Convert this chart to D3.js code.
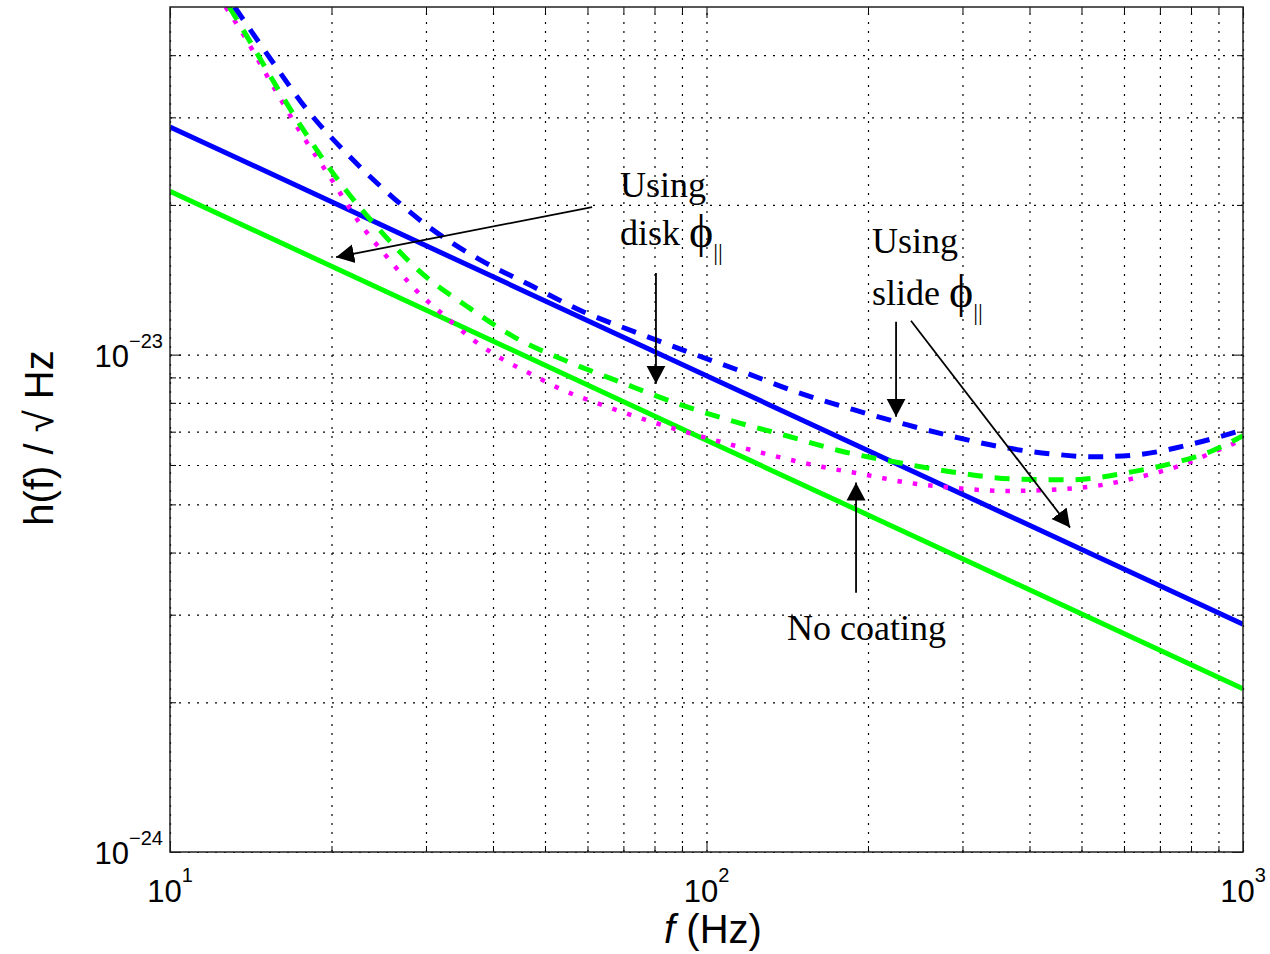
<!DOCTYPE html>
<html>
<head>
<meta charset="utf-8">
<script src="https://cdnjs.cloudflare.com/ajax/libs/d3/7.8.5/d3.min.js"></script>
<style>
  body { margin: 0; background: #fff; }
  .tick line { stroke: #000; stroke-width: 1; }
  .grid line { stroke: #000; stroke-width: 1.2; stroke-dasharray: 2,7; }
</style>
</head>
<body>
<div id="chart"></div>
<script>
// Values: [f (Hz), h(f) (1/sqrt(Hz))]
var slideSolid = [[10, 2.87e-23], [100, 9.07e-24], [1000, 2.87e-24]];
var diskSolid = [[10, 2.13e-23], [100, 6.73e-24], [1000, 2.13e-24]];

var slideDashed = [
  [13.2, 5.0e-23], [15.5, 3.89e-23], [18.0, 3.11e-23], [21.4, 2.53e-23], [25.4, 2.12e-23],
  [30.5, 1.80e-23], [37.5, 1.56e-23], [46.9, 1.38e-23], [58.9, 1.22e-23], [74.2, 1.107e-23],
  [93.2, 1.009e-23], [118, 9.20e-24], [148, 8.39e-24], [188, 7.75e-24], [236, 7.23e-24],
  [284, 6.87e-24], [352, 6.53e-24], [437, 6.32e-24], [530, 6.23e-24], [634, 6.29e-24],
  [807, 6.62e-24], [1000, 7.06e-24]
];

var diskDashed = [
  [12.9, 5.0e-23], [14.1, 4.26e-23], [16.0, 3.38e-23], [18.2, 2.71e-23], [21.0, 2.18e-23],
  [24.6, 1.78e-23], [29.2, 1.47e-23], [35.8, 1.25e-23], [44.0, 1.082e-23], [55.2, 9.68e-24],
  [69.6, 8.78e-24], [87.4, 8.00e-24], [111, 7.37e-24], [141, 6.87e-24], [177, 6.41e-24],
  [229, 6.06e-24], [293, 5.79e-24], [368, 5.63e-24], [476, 5.60e-24], [608, 5.79e-24],
  [770, 6.12e-24], [868, 6.38e-24], [1000, 6.87e-24]
];

var noCoating = [
  [12.7, 5.0e-23], [13.7, 4.40e-23], [15.5, 3.49e-23], [17.5, 2.80e-23], [19.9, 2.27e-23],
  [22.4, 1.86e-23], [25.4, 1.57e-23], [28.7, 1.35e-23], [32.6, 1.193e-23], [36.9, 1.067e-23],
  [41.8, 9.77e-24], [47.3, 9.12e-24], [53.3, 8.54e-24], [64.4, 7.90e-24], [77.8, 7.37e-24],
  [94.0, 6.93e-24], [113, 6.56e-24], [136, 6.23e-24], [164, 5.95e-24], [197, 5.74e-24],
  [237, 5.53e-24], [287, 5.40e-24], [365, 5.32e-24], [442, 5.35e-24], [535, 5.45e-24],
  [643, 5.68e-24], [773, 6.01e-24], [876, 6.35e-24], [1000, 6.75e-24]
];

// Ticks
var xMajor = [10, 100, 1000];
var xMinor = [20, 30, 40, 50, 60, 70, 80, 90, 200, 300, 400, 500, 600, 700, 800, 900];
var xTickExps = ["1", "2", "3"];
var yMajor = [1e-24, 1e-23];
var yMinor = [2e-24, 3e-24, 4e-24, 5e-24, 6e-24, 7e-24, 8e-24, 9e-24, 2e-23, 3e-23, 4e-23];
var yTickExps = ["\u221224", "\u221223"];

// Annotations (positions in data coordinates)
var notes = [
  {f: 69.0, h: 2.07e-23, text: "Using", phi: false},
  {f: 69.0, h: 1.665e-23, text: "disk ", phi: true},
  {f: 203.5, h: 1.60e-23, text: "Using", phi: false},
  {f: 203.5, h: 1.26e-23, text: "slide ", phi: true},
  {f: 141.3, h: 2.67e-24, text: "No coating", phi: false}
];
var arrows = [
  {from: [61.2, 1.98e-23], to: [20.4, 1.57e-23]},
  {from: [80.5, 1.46e-23], to: [80.5, 8.74e-24]},
  {from: [225.6, 1.165e-23], to: [225.6, 7.5e-24]},
  {from: [240.5, 1.17e-23], to: [476, 4.49e-24]},
  {from: [190, 3.32e-24], to: [190, 5.53e-24]}
];

var svgWidth = 1270;
var svgHeight = 954;

var margin = {
  top: 7,
  right: 27,
  bottom: 102,
  left: 170
};

var width = svgWidth - margin.left - margin.right;
var height = svgHeight - margin.top - margin.bottom;

var svg = d3.select("#chart")
  .append("svg")
  .attr("width", svgWidth)
  .attr("height", svgHeight)
  .style("background", "#fff");

var chartGroup = svg.append("g")
  .attr("transform", `translate(${margin.left}, ${margin.top})`);

var x = d3.scaleLog().domain([10, 1000]).range([0, width]);
var y = d3.scaleLog().domain([1e-24, 5e-23]).range([height, 0]);

// Clip
svg.append("defs").append("clipPath")
  .attr("id", "plot-clip")
  .append("rect")
  .attr("width", width)
  .attr("height", height);

svg.select("defs").append("marker")
  .attr("id", "arrowhead")
  .attr("markerUnits", "userSpaceOnUse")
  .attr("viewBox", "0 -10 18 20")
  .attr("markerWidth", 18)
  .attr("markerHeight", 20)
  .attr("refX", 18)
  .attr("refY", 0)
  .attr("orient", "auto")
  .append("path")
  .attr("d", "M0,-9.5L18,0L0,9.5Z")
  .attr("fill", "#000");

// Grid lines
chartGroup.append("g")
  .attr("class", "grid")
  .attr("transform", `translate(0, ${height})`)
  .call(d3.axisBottom(x).tickValues(xMajor.concat(xMinor)).tickSize(-height).tickFormat(""))
  .call(g => g.select(".domain").remove());

chartGroup.append("g")
  .attr("class", "grid")
  .call(d3.axisLeft(y).tickValues(yMajor.concat(yMinor)).tickSize(-width).tickFormat(""))
  .call(g => g.select(".domain").remove());

// Curves
var line = d3.line()
  .x(d => x(d[0]))
  .y(d => y(d[1]))
  .curve(d3.curveMonotoneX);

var curves = chartGroup.append("g").attr("clip-path", "url(#plot-clip)");

curves.append("path").datum(diskSolid)
  .attr("d", line).attr("fill", "none")
  .attr("stroke", "#00ff00").attr("stroke-width", 5);

curves.append("path").datum(slideSolid)
  .attr("d", line).attr("fill", "none")
  .attr("stroke", "#0000ff").attr("stroke-width", 5);

curves.append("path").datum(noCoating)
  .attr("d", line).attr("fill", "none")
  .attr("stroke", "#ff00ff").attr("stroke-width", 4.5)
  .attr("stroke-dasharray", "4.5,11");

curves.append("path").datum(diskDashed)
  .attr("d", line).attr("fill", "none")
  .attr("stroke", "#00ff00").attr("stroke-width", 5)
  .attr("stroke-dasharray", "15,12");

curves.append("path").datum(slideDashed)
  .attr("d", line).attr("fill", "none")
  .attr("stroke", "#0000ff").attr("stroke-width", 5)
  .attr("stroke-dasharray", "15,12");

// Inward ticks on all four sides
function tickAxis(axisFn, scale, values, size, transform) {
  chartGroup.append("g")
    .attr("transform", transform)
    .call(axisFn(scale).tickValues(values).tickSize(-size).tickFormat(""))
    .call(g => g.select(".domain").remove());
}
tickAxis(d3.axisBottom, x, xMajor, 11, `translate(0, ${height})`);
tickAxis(d3.axisBottom, x, xMinor, 6, `translate(0, ${height})`);
tickAxis(d3.axisTop, x, xMajor, 11, "translate(0, 0)");
tickAxis(d3.axisTop, x, xMinor, 6, "translate(0, 0)");
tickAxis(d3.axisLeft, y, yMajor, 11, "translate(0, 0)");
tickAxis(d3.axisLeft, y, yMinor, 6, "translate(0, 0)");
tickAxis(d3.axisRight, y, yMajor, 11, `translate(${width}, 0)`);
tickAxis(d3.axisRight, y, yMinor, 6, `translate(${width}, 0)`);

// Frame
chartGroup.append("rect")
  .attr("width", width)
  .attr("height", height)
  .attr("fill", "none")
  .attr("stroke", "#222")
  .attr("stroke-width", 1.5);

// Tick labels with superscripts
var tickLabels = chartGroup.append("g")
  .attr("font-family", "'Liberation Sans', Arial, Helvetica, sans-serif")
  .attr("fill", "#000");

xMajor.forEach(function(v, i) {
  var t = tickLabels.append("text")
    .attr("x", x(v))
    .attr("y", height + 50)
    .attr("text-anchor", "middle")
    .attr("font-size", 31);
  t.append("tspan").text("10");
  t.append("tspan").attr("dy", -20).attr("font-size", 20).text(xTickExps[i]);
});

yMajor.forEach(function(v, i) {
  var t = tickLabels.append("text")
    .attr("x", -7)
    .attr("y", y(v) + 12)
    .attr("text-anchor", "end")
    .attr("font-size", 31);
  t.append("tspan").text("10");
  t.append("tspan").attr("dy", -19).attr("font-size", 20).text(yTickExps[i]);
});

// Axis titles
var xTitle = svg.append("text")
  .attr("x", 713)
  .attr("y", 943)
  .attr("text-anchor", "middle")
  .attr("font-family", "'Liberation Sans', Arial, Helvetica, sans-serif")
  .attr("font-size", 40)
  .attr("fill", "#000");
xTitle.append("tspan").attr("font-style", "italic").text("f");
xTitle.append("tspan").text(" (Hz)");

svg.append("text")
  .attr("transform", "translate(53, 438) rotate(-90)")
  .attr("text-anchor", "middle")
  .attr("font-family", "'Liberation Sans', Arial, Helvetica, sans-serif")
  .attr("font-size", 40)
  .attr("fill", "#000")
  .text("h(f) / \u221A Hz");

// Annotation arrows
chartGroup.selectAll(".note-arrow")
  .data(arrows)
  .enter().append("line")
  .attr("class", "note-arrow")
  .attr("x1", d => x(d.from[0]))
  .attr("y1", d => y(d.from[1]))
  .attr("x2", d => x(d.to[0]))
  .attr("y2", d => y(d.to[1]))
  .attr("stroke", "#000")
  .attr("stroke-width", 1.8)
  .attr("marker-end", "url(#arrowhead)");

// Annotation text
notes.forEach(function(n) {
  var t = chartGroup.append("text")
    .attr("x", x(n.f))
    .attr("y", y(n.h))
    .attr("font-family", "'Liberation Serif', 'Times New Roman', Times, serif")
    .attr("font-size", 36)
    .attr("fill", "#000");
  t.append("tspan").text(n.text);
  if (n.phi) {
    t.append("tspan").attr("font-size", 46).attr("dy", 2).text("\u03D5");
    t.append("tspan").attr("dy", 13).attr("font-size", 24).attr("fill", "#000").text("||");
  }
});
</script>
</body>
</html>
